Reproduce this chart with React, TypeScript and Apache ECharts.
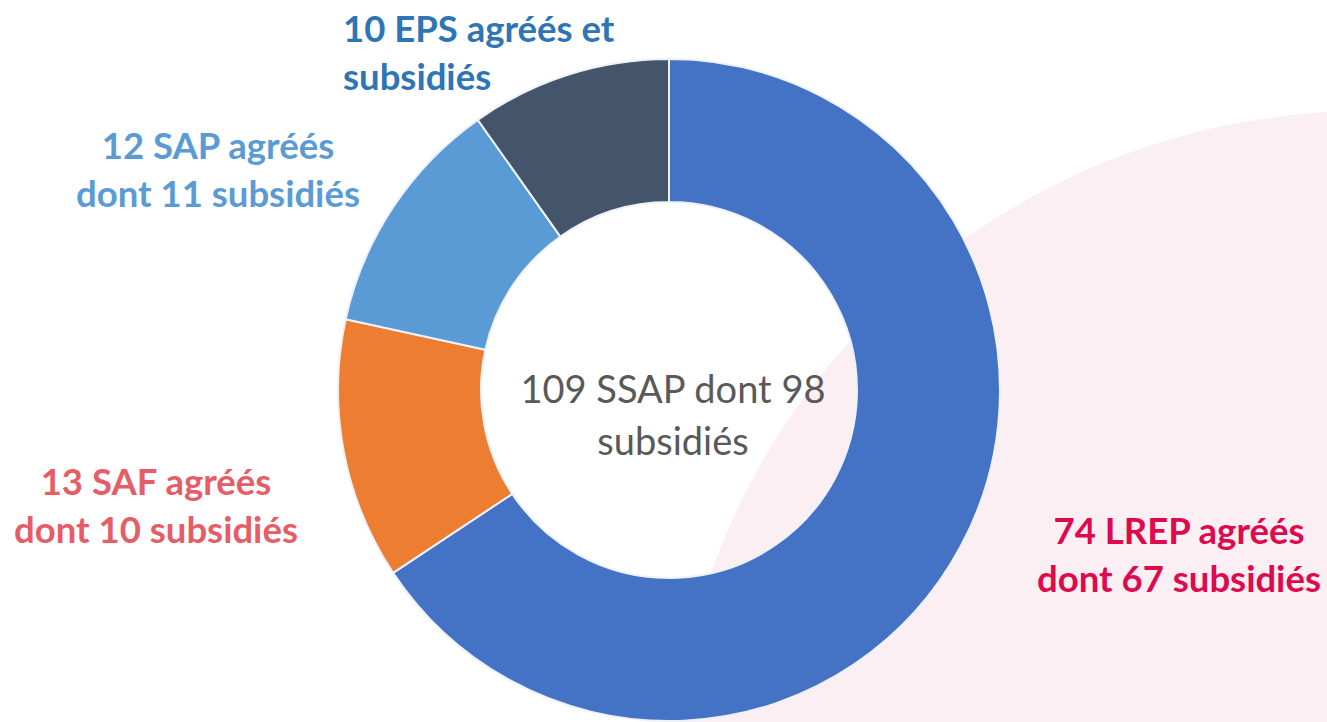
import React, { useEffect, useRef } from "react";
import * as echarts from "echarts";

const categories = ["LREP", "SAF", "SAP", "EPS"];
const values = [67, 13, 12, 10];
const labelTexts = [
  "74 LREP agréés\ndont 67 subsidiés",
  "13 SAF agréés\ndont 10 subsidiés",
  "12 SAP agréés\ndont 11 subsidiés",
  "10 EPS agréés et\nsubsidiés",
];
const centerText = "109 SSAP dont 98\nsubsidiés";

const sliceColors = ["#4472C4", "#ED7D31", "#5B9BD5", "#44546A"];
const labelColors = ["#DE0A4E", "#E65D67", "#5B9BD5", "#2E75B6"];
const labelPos: { x: number; y: number; align: string }[] = [
  { x: 1179, y: 554, align: "center" },
  { x: 156, y: 505, align: "center" },
  { x: 218, y: 169, align: "center" },
  { x: 343, y: 52, align: "left" },
];

export default function App() {
  const ref = useRef<HTMLDivElement>(null);
  useEffect(() => {
    document.body.style.margin = "0";
    const chart = echarts.init(ref.current!, null, { renderer: "svg" });
    chart.setOption({
      animation: false,
      backgroundColor: "#ffffff",
      graphic: [
        {
          type: "circle",
          z: -10,
          shape: { cx: 1367, cy: 808, r: 697 },
          style: { fill: "#FCEFF3" },
          silent: true,
        },
        {
          type: "text",
          z: 10,
          x: 673,
          y: 414,
          style: {
            text: centerText,
            fill: "#595959",
            font: "38px Lato",
            align: "center",
            verticalAlign: "middle",
            lineHeight: 52,
          },
        },
      ],
      series: [
        {
          type: "pie",
          center: [669, 390],
          radius: [188, 331],
          startAngle: 90,
          clockwise: true,
          avoidLabelOverlap: false,
          itemStyle: { borderColor: "#EEF2F8", borderWidth: 2 },
          labelLine: { show: false },
          label: {
            show: true,
            fontFamily: "Lato",
            fontWeight: "bold",
            fontSize: 36.5,
            lineHeight: 48,
          },
          labelLayout: (params: any) => {
            const p = labelPos[params.dataIndex];
            return { x: p.x, y: p.y, align: p.align, verticalAlign: "middle" };
          },
          data: categories.map((c, i) => ({
            name: c,
            value: values[i],
            itemStyle: { color: sliceColors[i] },
            label: { formatter: labelTexts[i], color: labelColors[i] },
          })),
        },
      ],
    });
    return () => chart.dispose();
  }, []);
  return <div ref={ref} style={{ width: 1327, height: 722 }} />;
}
